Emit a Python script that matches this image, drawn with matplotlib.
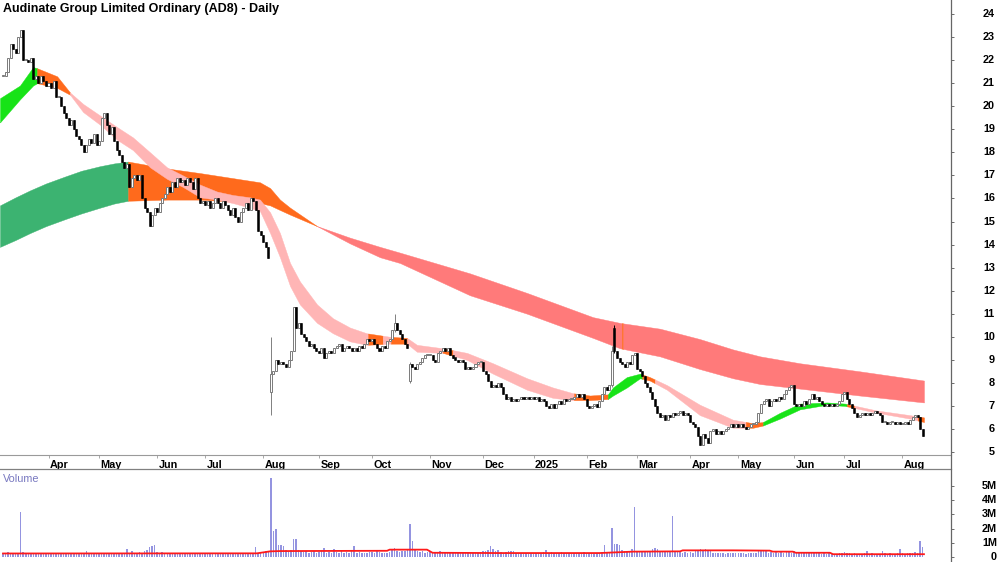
import numpy as np
import matplotlib
matplotlib.use("Agg")
import matplotlib.pyplot as plt
import matplotlib.transforms as mtransforms
from matplotlib.lines import Line2D

plt.rcParams['font.family'] = ['Liberation Sans', 'DejaVu Sans']

TITLE = "Audinate Group Limited Ordinary (AD8) - Daily"

# ---------- DATA (daily closes, one list per month) ----------
close_2024_03 = [21.3, 21.5, 22.1, 22.7, 22.5, 22.3, 23.0, 23.3, 22.0, 22.0, 21.9, 22.1,
                 21.2, 21.3, 21.0, 21.3, 21.1, 20.9]
close_2024_04 = [21.0, 20.8, 21.1, 20.4, 20.4, 20.0, 19.7, 19.5, 19.2, 19.4, 19.0, 18.7,
                 18.6, 18.3, 18.0, 18.3, 18.6, 18.4, 18.8, 18.3]
close_2024_05 = [18.5, 19.5, 19.7, 19.2, 18.8, 19.1, 18.5, 18.1, 17.9, 17.6, 17.3, 17.5,
                 16.5, 16.9, 17.0, 16.8, 17.0, 16.0, 15.6, 15.4, 14.8, 15.3, 15.6]
close_2024_06 = [15.4, 15.8, 16.0, 16.2, 16.5, 16.3, 16.7, 16.5, 16.9, 16.7, 16.8, 16.6,
                 16.9, 16.7, 16.4, 16.9, 16.0, 15.8, 15.9]
close_2024_07 = [15.7, 15.9, 15.6, 15.8, 16.0, 15.8, 15.6, 15.9, 15.7, 15.5, 15.3, 15.6,
                 15.2, 15.0, 15.4, 15.6, 15.8, 15.5, 16.0, 15.9, 15.5, 14.6, 14.4]
close_2024_08 = [14.1, 13.9, 13.4, 8.4, 8.5, 9.0, 8.8, 8.9, 8.8, 8.7, 9.0, 9.4, 11.3,
                 10.4, 10.6, 10.1, 10.0, 9.8, 9.6, 9.7, 9.5, 9.4]
close_2024_09 = [9.3, 9.5, 9.1, 9.3, 9.4, 9.3, 9.5, 9.6, 9.7, 9.4, 9.5, 9.6, 9.5, 9.4,
                 9.5, 9.4, 9.6, 9.5, 9.7, 9.9, 9.8]
close_2024_10 = [9.9, 9.7, 9.5, 9.4, 9.6, 9.5, 9.8, 9.9, 10.3, 10.6, 10.3, 10.1, 9.9,
                 9.7, 9.5, 8.8, 8.7, 8.6, 8.8, 8.9, 9.1, 9.2, 9.2]
close_2024_11 = [9.2, 9.0, 8.9, 9.3, 9.4, 9.5, 9.4, 9.5, 9.2, 9.1, 9.0, 8.9, 9.0, 8.9,
                 8.6, 8.7, 8.6, 8.7, 8.8, 8.9, 8.9]
close_2024_12 = [8.5, 8.4, 8.1, 7.8, 7.9, 7.8, 8.0, 7.8, 7.5, 7.3, 7.4, 7.2, 7.3, 7.2,
                 7.3, 7.4, 7.3, 7.4, 7.3, 7.4]
close_2025_01 = [7.3, 7.4, 7.2, 7.3, 7.2, 7.0, 6.9, 7.1, 6.9, 7.1, 7.2, 7.1, 7.3, 7.2,
                 7.3, 7.3, 7.4, 7.5, 7.4, 7.5, 7.3]
close_2025_02 = [7.0, 6.9, 7.0, 7.1, 6.95, 7.2, 7.5, 7.8, 7.7, 7.9, 9.4, 9.4, 9.1, 8.9,
                 8.8, 8.7, 8.9, 8.8, 9.2, 9.3]
close_2025_03 = [8.6, 8.5, 8.3, 8.0, 7.8, 7.6, 7.3, 7.0, 6.7, 6.5, 6.6, 6.4, 6.6, 6.5,
                 6.7, 6.6, 6.7, 6.8, 6.6, 6.7, 6.6]
close_2025_04 = [6.3, 6.2, 6.1, 5.7, 5.3, 5.8, 5.6, 5.4, 5.9, 6.0, 5.8, 5.9, 5.8, 5.9,
                 6.0, 6.1, 6.2, 6.1, 6.2]
close_2025_05 = [6.1, 6.2, 6.1, 6.0, 6.1, 6.2, 6.2, 6.3, 6.7, 7.1, 7.2, 7.3, 7.0, 7.2,
                 7.3, 7.2, 7.4, 7.3, 7.5, 7.7, 7.8, 7.9]
close_2025_06 = [7.1, 7.0, 7.1, 7.0, 7.2, 7.1, 7.3, 7.5, 7.3, 7.4, 7.2, 7.1, 7.0, 7.1,
                 7.0, 7.1, 7.0, 7.1, 7.2, 7.5]
close_2025_07 = [7.6, 7.3, 7.1, 6.9, 6.7, 6.5, 6.6, 6.7, 6.6, 6.7, 6.6, 6.7, 6.8, 6.7,
                 6.6, 6.3, 6.3, 6.2, 6.3, 6.3, 6.2, 6.3, 6.2]
close_2025_08 = [6.2, 6.3, 6.2, 6.4, 6.5, 6.6, 6.5, 6.0, 5.7]

# volume in millions, one list per month
vol_2024_03 = [0.3, 0.25, 0.35, 0.3, 0.2, 0.25, 0.3, 3.2, 0.35, 0.25, 0.2, 0.3, 0.3, 0.25,
               0.2, 0.25, 0.3, 0.2]
vol_2024_04 = [0.25, 0.3, 0.2, 0.3, 0.25, 0.3, 0.2, 0.25, 0.3, 0.25, 0.2, 0.25, 0.3, 0.25,
               0.2, 0.45, 0.3, 0.25, 0.2, 0.3]
vol_2024_05 = [0.25, 0.3, 0.2, 0.25, 0.3, 0.2, 0.25, 0.3, 0.2, 0.25, 0.3, 0.6, 0.25, 0.45,
               0.3, 0.25, 0.35, 0.3, 0.4, 0.5, 0.7, 0.75, 0.85]
vol_2024_06 = [0.35, 0.3, 0.35, 0.3, 0.25, 0.3, 0.2, 0.25, 0.3, 0.25, 0.2, 0.25, 0.3, 0.2,
               0.25, 0.3, 0.25, 0.2, 0.25]
vol_2024_07 = [0.2, 0.25, 0.3, 0.2, 0.25, 0.2, 0.3, 0.25, 0.2, 0.25, 0.3, 0.2, 0.25, 0.3,
               0.25, 0.2, 0.25, 0.3, 0.2, 0.25, 0.7, 0.3, 0.35]
vol_2024_08 = [0.3, 0.45, 0.35, 5.6, 1.8, 2.0, 0.85, 0.85, 0.75, 0.5, 0.45, 0.5, 1.3, 1.3,
               0.5, 0.45, 0.35, 0.4, 0.3, 0.35, 0.4, 0.3]
vol_2024_09 = [0.35, 0.4, 0.65, 0.3, 0.35, 0.3, 0.6, 0.35, 0.3, 0.4, 0.3, 0.35, 0.3, 0.4,
               0.8, 0.3, 0.35, 0.3, 0.25, 0.3, 0.35]
vol_2024_10 = [0.35, 0.3, 0.4, 0.35, 0.3, 0.25, 0.3, 0.35, 0.5, 0.65, 0.45, 0.35, 0.4, 0.45,
               0.5, 2.3, 1.1, 0.5, 0.4, 0.35, 0.4, 0.3, 0.35]
vol_2024_11 = [0.4, 0.3, 0.35, 0.3, 0.4, 0.35, 0.3, 0.25, 0.3, 0.35, 0.3, 0.25, 0.3, 0.25,
               0.35, 0.3, 0.25, 0.3, 0.25, 0.3, 0.35]
vol_2024_12 = [0.45, 0.4, 0.5, 0.8, 0.55, 0.4, 0.5, 0.35, 0.3, 0.35, 0.45, 0.4, 0.45, 0.3,
               0.25, 0.3, 0.2, 0.25, 0.2, 0.25]
vol_2025_01 = [0.2, 0.3, 0.25, 0.3, 0.35, 0.5, 0.3, 0.35, 0.3, 0.25, 0.3, 0.35, 0.3, 0.25,
               0.3, 0.2, 0.25, 0.3, 0.25, 0.3, 0.35]
vol_2025_02 = [0.3, 0.25, 0.3, 0.2, 0.25, 0.3, 0.35, 0.85, 0.35, 0.3, 2.06, 0.95, 0.95, 0.85,
               0.5, 0.4, 0.45, 0.4, 0.6, 3.5]
vol_2025_03 = [0.45, 0.4, 0.35, 0.4, 0.35, 0.45, 0.55, 0.65, 0.55, 0.4, 0.45, 0.4, 0.35, 0.4,
               2.9, 0.45, 0.4, 0.35, 0.3, 0.35, 0.3]
vol_2025_04 = [0.35, 0.3, 0.4, 0.45, 0.55, 0.5, 0.55, 0.5, 0.4, 0.3, 0.25, 0.3, 0.25, 0.3,
               0.2, 0.25, 0.3, 0.25, 0.3]
vol_2025_05 = [0.25, 0.3, 0.25, 0.2, 0.25, 0.3, 0.25, 0.3, 0.45, 0.5, 0.45, 0.4, 0.3, 0.35,
               0.3, 0.45, 0.3, 0.35, 0.3, 0.4, 0.35, 0.3]
vol_2025_06 = [0.4, 0.35, 0.3, 0.35, 0.3, 0.25, 0.35, 0.3, 0.25, 0.3, 0.25, 0.2, 0.25, 0.2,
               0.25, 0.2, 0.15, 0.2, 0.25, 0.3]
vol_2025_07 = [0.35, 0.3, 0.25, 0.2, 0.25, 0.2, 0.15, 0.2, 0.25, 0.45, 0.2, 0.25, 0.2, 0.15,
               0.2, 0.4, 0.3, 0.2, 0.25, 0.2, 0.2, 0.25, 0.6]
vol_2025_08 = [0.25, 0.2, 0.3, 0.25, 0.3, 0.35, 0.3, 1.1, 0.7]

# month label shown at the first trading day of each list (None = no tick)
MONTH_LABELS = [None, "Apr", "May", "Jun", "Jul", "Aug", "Sep", "Oct", "Nov", "Dec",
                "2025", "Feb", "Mar", "Apr", "May", "Jun", "Jul", "Aug"]

# candles that need their own open / high / low: index -> (open, high, low)
SPECIAL_CANDLES = {
    106: (7.6, 10.0, 6.6),
    155: (10.3, 11.0, 10.2),
    161: (8.1, 8.9, 8.0),
    241: (7.9, 9.6, 7.8),
    242: (10.4, 10.5, 9.3),
}

# long trend ribbon (read at trading-day positions)
long_pos = [-1.2, 5.0, 10.7, 17.0, 24.5, 31.0, 38.4, 44.0, 49.5, 65.0, 78.0, 101.7, 105.7,
            109.6, 113.6, 124.3, 137.3, 149.2, 157.1, 184.8, 207.4, 233.5, 244.2, 260.0,
            275.8, 288.9, 299.6, 315.4, 339.1, 364.5]
long_top = [15.7, 16.05, 16.35, 16.65, 16.95, 17.2, 17.4, 17.52, 17.6, 17.3, 17.1, 16.7, 16.45,
            15.95, 15.6, 14.8, 14.3, 13.9, 13.65, 12.75, 11.9, 10.85, 10.6, 10.35,
            9.9, 9.45, 9.15, 8.85, 8.5, 8.1]
long_bot = [13.9, 14.2, 14.5, 14.8, 15.1, 15.35, 15.6, 15.78, 15.9, 15.95, 15.95, 15.8, 15.7,
            15.5, 15.3, 14.8, 14.05, 13.45, 13.2, 11.8, 11.0, 9.95, 9.5, 9.15,
            8.6, 8.2, 7.95, 7.75, 7.45, 7.15]
long_colors = [(-1.2, 49.5, "green"), (49.5, 124.3, "orange"), (124.3, 244.9, "red"),
               (244.9, 245.5, "orange"), (245.5, 364.5, "red")]

# short trend ribbon
short_pos = [-1.2, 6.7, 11.9, 13.5, 21.4, 26.5, 31.7, 38.4, 45.1, 51.4, 58.2, 64.9, 71.2,
             78.0, 84.7, 91.0, 97.7, 101.7, 105.7, 109.6, 113.6, 117.5, 124.3, 130.6,
             137.3, 144.0, 153.1, 159.9, 163.8, 174.1, 183.6, 193.9, 207.4, 217.6, 225.6,
             232.3, 239.4, 241.4, 246.9, 252.1, 256.0, 262.8, 275.8, 288.9, 296.8, 300.8,
             307.5, 315.4, 326.1, 333.2, 345.9, 358.9, 364.5]
short_top = [20.35, 20.9, 21.7, 21.65, 21.3, 20.6, 20.1, 19.6, 19.1, 18.65, 18.0, 17.35, 17.0,
             16.6, 16.3, 16.15, 16.05, 15.95, 15.4, 14.5, 13.2, 12.4, 11.4, 10.8,
             10.4, 10.15, 10.0, 9.95, 9.65, 9.5, 9.3, 8.85, 8.2, 7.8, 7.55,
             7.45, 7.5, 7.8, 8.25, 8.4, 8.25, 7.9, 7.05, 6.4, 6.25, 6.3,
             6.7, 7.1, 7.15, 7.1, 6.8, 6.6, 6.5]
short_bot = [19.3, 20.3, 20.9, 21.0, 20.8, 20.5, 19.75, 19.2, 18.55, 18.1, 17.35, 16.85, 16.5,
             16.05, 15.95, 15.8, 15.6, 15.45, 14.5, 13.45, 12.2, 11.4, 10.6, 10.15,
             9.8, 9.65, 9.7, 9.7, 9.35, 9.3, 9.0, 8.4, 7.7, 7.35, 7.25,
             7.25, 7.3, 7.45, 7.8, 8.2, 8.1, 7.7, 6.6, 6.05, 6.05, 6.15,
             6.45, 6.85, 7.05, 7.0, 6.7, 6.45, 6.3]
short_colors = [(-1.2, 13.5, "lime"), (13.5, 26.5, "orange"), (26.5, 144.5, "pink"),
                (144.5, 150.3, "orange"), (150.3, 153.5, "pink"), (153.5, 160.0, "orange"),
                (160.0, 174.0, "pink"), (174.0, 178.0, "orange"), (178.0, 226.0, "pink"),
                (226.0, 239.4, "orange"), (239.4, 253.0, "lime"), (253.0, 258.0, "orange"),
                (258.0, 294.0, "pink"), (294.0, 300.8, "orange"), (300.8, 334.0, "lime"),
                (334.0, 337.0, "orange"), (337.0, 362.0, "pink"), (362.0, 364.5, "orange")]

# volume moving average (millions)
vma_pos = [0, 100.5, 105.7, 109.6, 152, 153, 167.8, 170, 196.7, 236, 249.3, 268, 269,
           288.9, 303.5, 304.7, 312.6, 313.8, 327.3, 328.5, 364.5]
vma_val = [0.25, 0.26, 0.40, 0.42, 0.44, 0.52, 0.52, 0.30, 0.28, 0.28, 0.38, 0.40, 0.47,
           0.47, 0.45, 0.38, 0.38, 0.30, 0.30, 0.20, 0.20]

# ---------- STYLE ----------
COLORS = {"green": "#3CB371", "lime": "#17E317", "orange": "#FF6A1C",
          "red": "#FF7A7A", "pink": "#FFB5B5"}
W, H = 1000, 562
PX_RIGHT = 951
PRICE_BOTTOM_PX = 455
VOL_TOP_PX = 469
TICK_FS = 7.8

close_months = [close_2024_03, close_2024_04, close_2024_05, close_2024_06, close_2024_07,
                close_2024_08, close_2024_09, close_2024_10, close_2024_11, close_2024_12,
                close_2025_01, close_2025_02, close_2025_03, close_2025_04, close_2025_05,
                close_2025_06, close_2025_07, close_2025_08]
vol_months = [vol_2024_03, vol_2024_04, vol_2024_05, vol_2024_06, vol_2024_07, vol_2024_08,
              vol_2024_09, vol_2024_10, vol_2024_11, vol_2024_12, vol_2025_01, vol_2025_02,
              vol_2025_03, vol_2025_04, vol_2025_05, vol_2025_06, vol_2025_07, vol_2025_08]

closes = np.array([c for m in close_months for c in m])
volumes = np.array([v for m in vol_months for v in m])
n = len(closes)
idx = np.arange(n)

month_starts = np.cumsum([0] + [len(m) for m in close_months[:-1]])
tick_pos = [s for s, lab in zip(month_starts, MONTH_LABELS) if lab]
tick_lab = [lab for lab in MONTH_LABELS if lab]

opens = np.concatenate([[closes[0]], closes[:-1]])
highs = np.maximum(opens, closes)
lows = np.minimum(opens, closes)
for i, (o, h, l) in SPECIAL_CANDLES.items():
    opens[i], highs[i], lows[i] = o, h, l


def draw_band(ax, pos, top, bot, segments, z):
    grid = np.arange(pos[0], pos[-1] + 1e-6, 0.05)
    t = np.interp(grid, pos, top)
    b = np.interp(grid, pos, bot)
    for s, e, cname in segments:
        m = (grid >= s - 1e-6) & (grid <= e + 1e-6)
        ax.fill_between(grid[m], b[m], t[m], facecolor=COLORS[cname],
                        edgecolor=COLORS[cname], linewidth=0.3, zorder=z)


fig = plt.figure(figsize=(W / 100, H / 100), dpi=100)
ax = fig.add_axes([0, (H - PRICE_BOTTOM_PX) / H, PX_RIGHT / W, PRICE_BOTTOM_PX / H])
axv = fig.add_axes([0, 0, PX_RIGHT / W, (H - VOL_TOP_PX) / H])

xlim = (-1.2, 375.2)

# ---------- PRICE PANEL ----------
draw_band(ax, long_pos, long_top, long_bot, long_colors, 1)
draw_band(ax, short_pos, short_top, short_bot, short_colors, 2)

up = closes >= opens
body_lo = np.minimum(opens, closes)
body_h = np.maximum(np.abs(closes - opens), 0.04)
ax.vlines(idx[up], lows[up], highs[up], color="#808080", linewidth=0.7, zorder=3)
ax.vlines(idx[~up], lows[~up], highs[~up], color="black", linewidth=0.7, zorder=3)
ax.bar(idx[up], body_h[up], bottom=body_lo[up], width=0.8, facecolor="white",
       edgecolor="#7a7a7a", linewidth=0.7, zorder=4)
ax.bar(idx[~up], body_h[~up], bottom=body_lo[~up], width=0.8, facecolor="black",
       edgecolor="black", linewidth=0.4, zorder=4)

ax.set_xlim(*xlim)
ax.set_ylim(4.87, 24.61)
for s in ["top", "left", "right"]:
    ax.spines[s].set_visible(False)
ax.spines["bottom"].set_color("#9a9a9a")
ax.spines["bottom"].set_linewidth(0.8)

ax.set_xticks(tick_pos)
ax.set_xticklabels(tick_lab, fontsize=TICK_FS, fontweight="bold", ha="left")
ax.tick_params(axis="x", direction="out", length=2.5, width=0.6, color="#9a9a9a", pad=1.0)
offset = mtransforms.ScaledTranslation(1.5 / 100, 0, fig.dpi_scale_trans)
for lbl in ax.get_xticklabels():
    lbl.set_transform(lbl.get_transform() + offset)

ax.yaxis.tick_right()
ax.set_yticks(range(5, 25))
ax.set_yticklabels([])
ax.tick_params(axis="y", direction="out", length=2.5, width=0.6, color="#555555")
ytrans = ax.get_yaxis_transform()
for v in range(5, 25):
    ax.text(995 / PX_RIGHT, v, str(v), transform=ytrans, ha="right", va="center",
            fontsize=TICK_FS, fontweight="bold", clip_on=False)

fig.text(3 / W, 1 - 9 / H, TITLE, ha="left", va="center", fontsize=9, fontweight="bold")

# ---------- VOLUME PANEL ----------
axv.bar(idx, volumes, width=0.6, color="#9494E0", linewidth=0, zorder=2)
axv.plot(vma_pos, vma_val, color="#FF1A1A", linewidth=1.3, zorder=3)
axv.set_xlim(*xlim)
axv.set_ylim(-0.35, 6.2)
for s in ["bottom", "left", "right"]:
    axv.spines[s].set_visible(False)
axv.spines["top"].set_color("#808080")
axv.spines["top"].set_linewidth(0.9)
axv.set_xticks([])
axv.yaxis.tick_right()
axv.set_yticks(range(0, 6))
axv.set_yticklabels([])
axv.tick_params(axis="y", direction="out", length=2.5, width=0.6, color="#555555")
vtrans = axv.get_yaxis_transform()
for v in range(0, 6):
    axv.text(997 / PX_RIGHT, v, "0" if v == 0 else f"{v}M", transform=vtrans, ha="right",
             va="center", fontsize=TICK_FS, fontweight="bold", clip_on=False)
axv.text(3 / PX_RIGHT, 1 - 10 / (H - VOL_TOP_PX), "Volume", transform=axv.transAxes,
         ha="left", va="center", fontsize=7.8, color="#7878C0")

# right-hand scale line across both panels
fig.add_artist(Line2D([PX_RIGHT / W, PX_RIGHT / W], [0, 1], color="#666666", linewidth=0.9))

fig.savefig("out.png", dpi=100)
